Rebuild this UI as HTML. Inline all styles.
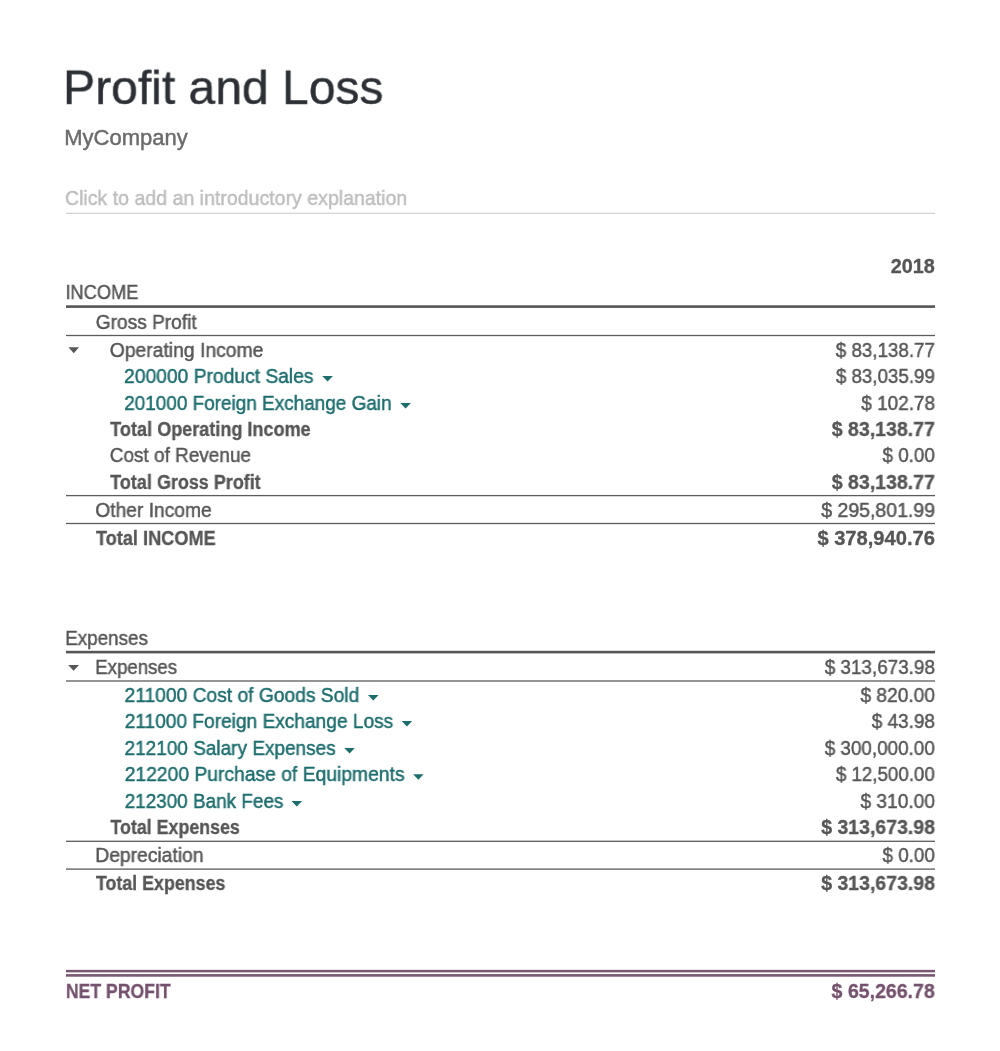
<!DOCTYPE html>
<html><head><meta charset="utf-8"><title>Profit and Loss</title>
<style>
html,body{margin:0;padding:0;background:#fff;width:1000px;height:1051px;overflow:hidden}
body{position:relative;font-family:"Liberation Sans",sans-serif}
.t{position:absolute;white-space:nowrap;line-height:1;transform-origin:0 0;-webkit-text-stroke:0.3px currentColor;will-change:transform}
.ov{position:absolute;left:0;top:0;display:block}
</style></head><body>
<svg class="ov" width="1000" height="1051" viewBox="0 0 1000 1051"><rect x="66" y="212.75" width="869" height="1.10" fill="#cccccc"/><rect x="66" y="305.30" width="869" height="2.60" fill="#555555"/><rect x="66" y="334.85" width="869" height="1.30" fill="#5c5c5c"/><rect x="66" y="494.95" width="869" height="1.30" fill="#5c5c5c"/><rect x="66" y="522.85" width="869" height="1.30" fill="#5c5c5c"/><rect x="66" y="650.80" width="869" height="2.60" fill="#555555"/><rect x="66" y="680.35" width="869" height="1.30" fill="#5c5c5c"/><rect x="66" y="840.65" width="869" height="1.30" fill="#5c5c5c"/><rect x="66" y="868.45" width="869" height="1.30" fill="#5c5c5c"/><rect x="66" y="969.85" width="869" height="2.50" fill="#7a5873"/><rect x="66" y="974.10" width="869" height="2.60" fill="#7a5873"/><path d="M68.50 347.30H79.00L73.75 353.30Z" fill="#565656"/><path d="M322.30 376.00H332.90L327.60 381.50Z" fill="#1d6d6d"/><path d="M400.30 403.00H410.90L405.60 408.50Z" fill="#1d6d6d"/><path d="M68.20 665.00H79.00L73.60 670.70Z" fill="#565656"/><path d="M368.00 695.10H378.60L373.30 700.60Z" fill="#1d6d6d"/><path d="M401.70 721.00H412.20L406.95 726.50Z" fill="#1d6d6d"/><path d="M344.30 748.00H354.80L349.55 753.50Z" fill="#1d6d6d"/><path d="M413.20 774.20H423.50L418.35 779.70Z" fill="#1d6d6d"/><path d="M291.50 801.00H302.10L296.80 806.50Z" fill="#1d6d6d"/></svg>
<div id="title" class="t" style="left:63px;top:64.46px;font-size:49.20px;-webkit-text-stroke-width:0.45px;color:#2c3035;transform:scale(0.9765,0.9500);text-indent:0.113px">Profit and Loss</div>
<div id="company" class="t" style="left:64px;top:126.66px;font-size:22.00px;-webkit-text-stroke-width:0.45px;color:#6b6b6b;transform:scaleX(0.9960);text-indent:0.246px">MyCompany</div>
<div id="click" class="t" style="left:64px;top:188.14px;font-size:20.80px;-webkit-text-stroke-width:0.45px;color:#bdbdbd;transform:scaleX(0.9401);text-indent:0.966px">Click to add an introductory explanation</div>
<div id="y2018" class="t" style="left:890px;top:256.68px;font-size:19.60px;font-weight:bold;color:#565656;transform:scaleX(1.0109);text-indent:0.819px">2018</div>
<div id="r0" class="t" style="left:65px;top:283.13px;font-size:19.60px;-webkit-text-stroke-width:0.45px;color:#565656;transform:scaleX(0.9304);text-indent:0.435px">INCOME</div>
<div id="r1" class="t" style="left:95px;top:312.53px;font-size:19.60px;-webkit-text-stroke-width:0.45px;color:#565656;transform:scaleX(0.9756);text-indent:0.828px">Gross Profit</div>
<div id="r2" class="t" style="left:109px;top:340.83px;font-size:19.60px;-webkit-text-stroke-width:0.45px;color:#565656;transform:scaleX(0.9870);text-indent:0.732px">Operating Income</div>
<div id="a2" class="t" style="left:835px;top:340.83px;font-size:19.60px;-webkit-text-stroke-width:0.45px;color:#565656;transform:scaleX(0.9568);text-indent:0.873px">$ 83,138.77</div>
<div id="r3" class="t" style="left:124px;top:366.93px;font-size:19.60px;-webkit-text-stroke-width:0.45px;color:#1d6d6d;transform:scaleX(0.9822);text-indent:0.114px">200000 Product Sales</div>
<div id="a3" class="t" style="left:835px;top:366.93px;font-size:19.60px;-webkit-text-stroke-width:0.45px;color:#565656;transform:scaleX(0.9566);text-indent:0.883px">$ 83,035.99</div>
<div id="r4" class="t" style="left:124px;top:394.43px;font-size:19.60px;-webkit-text-stroke-width:0.45px;color:#1d6d6d;transform:scaleX(0.9665);text-indent:0.165px">201000 Foreign Exchange Gain</div>
<div id="a4" class="t" style="left:861px;top:394.43px;font-size:19.60px;-webkit-text-stroke-width:0.45px;color:#565656;transform:scaleX(0.9660);text-indent:0.373px">$ 102.78</div>
<div id="r5" class="t" style="left:110px;top:419.83px;font-size:19.60px;font-weight:bold;color:#565656;transform:scaleX(0.9215);text-indent:0.350px">Total Operating Income</div>
<div id="a5" class="t" style="left:831px;top:419.83px;font-size:19.60px;font-weight:bold;color:#565656;transform:scaleX(0.9953);text-indent:0.794px">$ 83,138.77</div>
<div id="r6" class="t" style="left:109px;top:446.23px;font-size:19.60px;-webkit-text-stroke-width:0.45px;color:#565656;transform:scaleX(0.9679);text-indent:0.763px">Cost of Revenue</div>
<div id="a6" class="t" style="left:882px;top:446.23px;font-size:19.60px;-webkit-text-stroke-width:0.45px;color:#565656;transform:scaleX(0.9585);text-indent:0.555px">$ 0.00</div>
<div id="r7" class="t" style="left:110px;top:472.83px;font-size:19.60px;font-weight:bold;color:#565656;transform:scaleX(0.9168);text-indent:0.353px">Total Gross Profit</div>
<div id="a7" class="t" style="left:831px;top:472.83px;font-size:19.60px;font-weight:bold;color:#565656;transform:scaleX(0.9953);text-indent:0.794px">$ 83,138.77</div>
<div id="r8" class="t" style="left:95px;top:500.83px;font-size:19.60px;-webkit-text-stroke-width:0.45px;color:#565656;transform:scaleX(0.9813);text-indent:0.226px">Other Income</div>
<div id="a8" class="t" style="left:821px;top:500.83px;font-size:19.60px;-webkit-text-stroke-width:0.45px;color:#565656;transform:scaleX(0.9952);text-indent:0.143px">$ 295,801.99</div>
<div id="r9" class="t" style="left:95px;top:528.73px;font-size:19.60px;font-weight:bold;color:#565656;transform:scaleX(0.9277);text-indent:0.915px">Total INCOME</div>
<div id="a9" class="t" style="left:817px;top:528.73px;font-size:19.60px;font-weight:bold;color:#565656;transform:scaleX(1.0270);text-indent:0.405px">$ 378,940.76</div>
<div id="r10" class="t" style="left:65px;top:628.53px;font-size:19.60px;-webkit-text-stroke-width:0.45px;color:#565656;transform:scaleX(0.9614);text-indent:0.211px">Expenses</div>
<div id="r11" class="t" style="left:95px;top:657.83px;font-size:19.60px;-webkit-text-stroke-width:0.45px;color:#565656;transform:scaleX(0.9509);text-indent:0.267px">Expenses</div>
<div id="a11" class="t" style="left:824px;top:657.83px;font-size:19.60px;-webkit-text-stroke-width:0.45px;color:#565656;transform:scaleX(0.9637);text-indent:0.707px">$ 313,673.98</div>
<div id="r12" class="t" style="left:124px;top:685.83px;font-size:19.60px;-webkit-text-stroke-width:0.45px;color:#1d6d6d;transform:scaleX(0.9809);text-indent:0.568px">211000 Cost of Goods Sold</div>
<div id="a12" class="t" style="left:860px;top:685.83px;font-size:19.60px;-webkit-text-stroke-width:0.45px;color:#565656;transform:scaleX(0.9753);text-indent:0.523px">$ 820.00</div>
<div id="r13" class="t" style="left:124px;top:711.83px;font-size:19.60px;-webkit-text-stroke-width:0.45px;color:#1d6d6d;transform:scaleX(0.9758);text-indent:0.664px">211000 Foreign Exchange Loss</div>
<div id="a13" class="t" style="left:871px;top:711.83px;font-size:19.60px;-webkit-text-stroke-width:0.45px;color:#565656;transform:scaleX(0.9653);text-indent:0.842px">$ 43.98</div>
<div id="r14" class="t" style="left:124px;top:738.83px;font-size:19.60px;-webkit-text-stroke-width:0.45px;color:#1d6d6d;transform:scaleX(0.9687);text-indent:0.579px">212100 Salary Expenses</div>
<div id="a14" class="t" style="left:824px;top:738.83px;font-size:19.60px;-webkit-text-stroke-width:0.45px;color:#565656;transform:scaleX(0.9626);text-indent:0.706px">$ 300,000.00</div>
<div id="r15" class="t" style="left:124px;top:765.23px;font-size:19.60px;-webkit-text-stroke-width:0.45px;color:#1d6d6d;transform:scaleX(0.9845);text-indent:0.663px">212200 Purchase of Equipments</div>
<div id="a15" class="t" style="left:835px;top:765.23px;font-size:19.60px;-webkit-text-stroke-width:0.45px;color:#565656;transform:scaleX(0.9562);text-indent:0.884px">$ 12,500.00</div>
<div id="r16" class="t" style="left:124px;top:791.93px;font-size:19.60px;-webkit-text-stroke-width:0.45px;color:#1d6d6d;transform:scaleX(0.9654);text-indent:0.627px">212300 Bank Fees</div>
<div id="a16" class="t" style="left:860px;top:791.93px;font-size:19.60px;-webkit-text-stroke-width:0.45px;color:#565656;transform:scaleX(0.9753);text-indent:0.523px">$ 310.00</div>
<div id="r17" class="t" style="left:110px;top:818.13px;font-size:19.60px;font-weight:bold;color:#565656;transform:scaleX(0.9099);text-indent:0.468px">Total Expenses</div>
<div id="a17" class="t" style="left:821px;top:818.13px;font-size:19.60px;font-weight:bold;color:#565656;transform:scaleX(0.9948);text-indent:0.129px">$ 313,673.98</div>
<div id="r18" class="t" style="left:95px;top:846.13px;font-size:19.60px;-webkit-text-stroke-width:0.45px;color:#565656;transform:scaleX(0.9834);text-indent:0.324px">Depreciation</div>
<div id="a18" class="t" style="left:882px;top:846.13px;font-size:19.60px;-webkit-text-stroke-width:0.45px;color:#565656;transform:scaleX(0.9585);text-indent:0.555px">$ 0.00</div>
<div id="r19" class="t" style="left:95px;top:874.43px;font-size:19.60px;font-weight:bold;color:#565656;transform:scaleX(0.9106);text-indent:0.912px">Total Expenses</div>
<div id="a19" class="t" style="left:821px;top:874.43px;font-size:19.60px;font-weight:bold;color:#565656;transform:scaleX(0.9948);text-indent:0.129px">$ 313,673.98</div>
<div id="r20" class="t" style="left:65px;top:982.43px;font-size:19.60px;font-weight:bold;color:#74516c;transform:scaleX(0.8997);text-indent:0.955px">NET PROFIT</div>
<div id="a20" class="t" style="left:831px;top:982.43px;font-size:19.60px;font-weight:bold;color:#74516c;transform:scaleX(0.9964);text-indent:0.603px">$ 65,266.78</div>
</body></html>
